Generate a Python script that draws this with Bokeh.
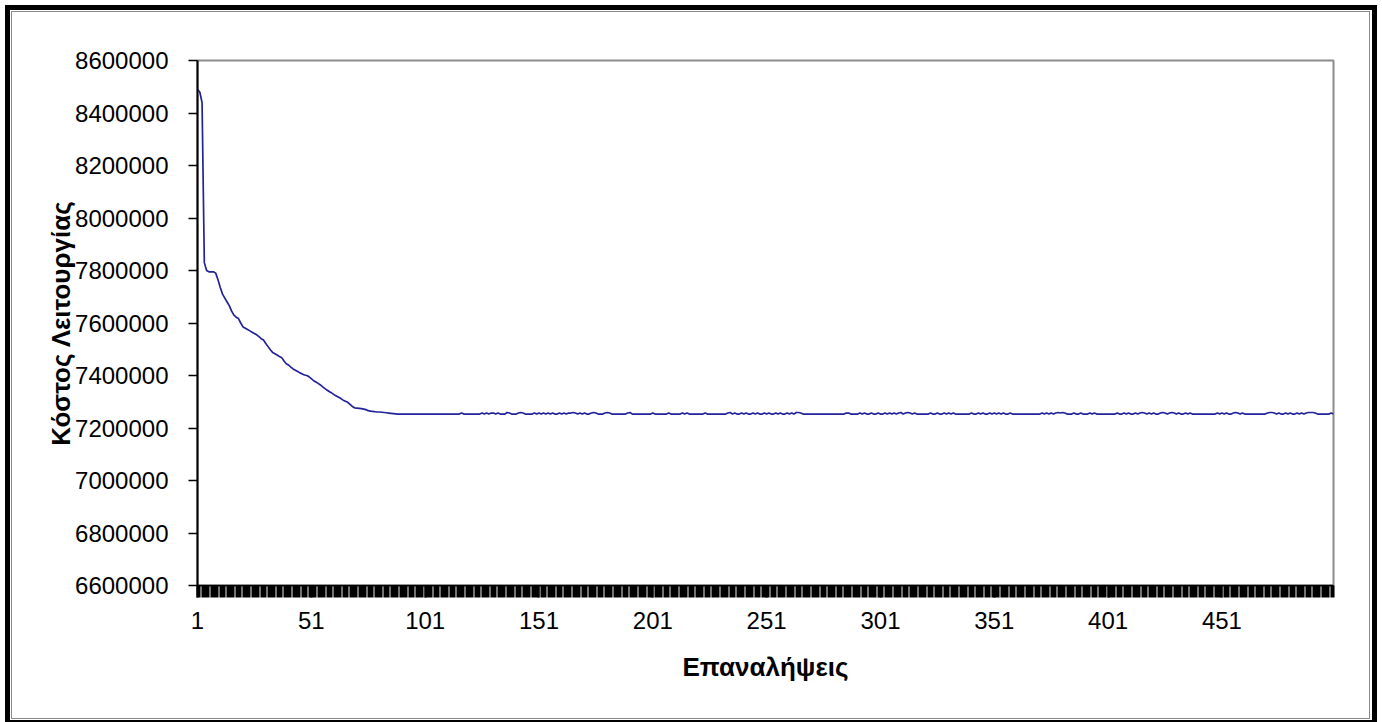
from bokeh.plotting import figure
from bokeh.models import FixedTicker, BasicTickFormatter, Range1d
from bokeh.embed import file_html
from bokeh.resources import INLINE

# Operating cost per iteration
cost = [
    8490000, 8480000, 8440000, 7830000, 7800000, 7795000, 7795000, 7795000, 7790000, 7765000,
    7735000, 7710000, 7695000, 7680000, 7665000, 7645000, 7630000, 7622000, 7617000, 7600000,
    7585000, 7580000, 7575000, 7570000, 7565000, 7560000, 7555000, 7548000, 7540000, 7535000,
    7522000, 7510000, 7498000, 7488000, 7483000, 7478000, 7472000, 7468000, 7455000, 7445000,
    7440000, 7432000, 7425000, 7420000, 7415000, 7410000, 7406000, 7402000, 7400000, 7395000,
    7388000, 7380000, 7375000, 7370000, 7364000, 7357000, 7350000, 7344000, 7338000, 7333000,
    7327000, 7322000, 7317000, 7312000, 7306000, 7302000, 7298000, 7290000, 7282000, 7277000,
    7276000, 7275000, 7274000, 7272000, 7270000, 7266000, 7264000, 7263000, 7262000, 7261000,
    7261000, 7260000, 7259000, 7258000, 7257000, 7256000, 7255000, 7254000,
    # 89-116
    7253000, 7253000, 7253000, 7253000, 7253000, 7253000, 7253000, 7253000, 7253000, 7253000,
    7253000, 7253000, 7253000, 7253000, 7253000, 7253000, 7253000, 7253000, 7253000, 7253000,
    7253000, 7253000, 7253000, 7253000, 7253000, 7253000, 7253000, 7253000,
    # 117-186
    7257000, 7253000, 7253000, 7253000, 7253000, 7253000, 7253000, 7253000, 7253000, 7257000,
    7253000, 7257000, 7253000, 7257000, 7257000, 7253000, 7257000, 7253000, 7253000, 7253000,
    7259000, 7257000, 7253000, 7253000, 7253000, 7257000, 7259000, 7257000, 7253000, 7253000,
    7253000, 7253000, 7257000, 7253000, 7257000, 7253000, 7257000, 7253000, 7257000, 7253000,
    7257000, 7253000, 7253000, 7257000, 7253000, 7257000, 7253000, 7257000, 7257000, 7259000,
    7257000, 7253000, 7257000, 7253000, 7257000, 7253000, 7253000, 7257000, 7259000, 7257000,
    7253000, 7253000, 7253000, 7257000, 7259000, 7257000, 7253000, 7253000, 7253000, 7253000,
    # 187-233
    7253000, 7253000, 7253000, 7257000, 7259000, 7253000, 7253000, 7253000, 7253000, 7253000,
    7253000, 7253000, 7253000, 7253000, 7257000, 7253000, 7253000, 7253000, 7253000, 7253000,
    7253000, 7257000, 7253000, 7253000, 7253000, 7253000, 7253000, 7257000, 7253000, 7257000,
    7253000, 7253000, 7253000, 7253000, 7253000, 7253000, 7253000, 7257000, 7253000, 7253000,
    7253000, 7253000, 7253000, 7253000, 7253000, 7253000, 7253000,
    # 234-268
    7257000, 7259000, 7253000, 7257000, 7253000, 7253000, 7257000, 7253000, 7257000, 7253000,
    7253000, 7257000, 7253000, 7257000, 7253000, 7253000, 7257000, 7253000, 7257000, 7253000,
    7253000, 7257000, 7253000, 7257000, 7253000, 7253000, 7257000, 7253000, 7257000, 7253000,
    7259000, 7259000, 7257000, 7253000, 7253000,
    # 269-291
    7253000, 7253000, 7253000, 7253000, 7253000, 7253000, 7253000, 7253000, 7253000, 7253000,
    7253000, 7253000, 7253000, 7253000, 7253000, 7253000, 7253000, 7257000, 7257000, 7253000,
    7253000, 7253000, 7253000,
    # 292-334
    7257000, 7253000, 7257000, 7253000, 7253000, 7257000, 7253000, 7253000, 7257000, 7253000,
    7253000, 7257000, 7253000, 7257000, 7253000, 7257000, 7253000, 7257000, 7259000, 7253000,
    7257000, 7259000, 7257000, 7253000, 7257000, 7253000, 7253000, 7253000, 7253000, 7253000,
    7253000, 7257000, 7253000, 7253000, 7257000, 7253000, 7253000, 7257000, 7253000, 7257000,
    7253000, 7257000, 7253000,
    # 335-340
    7253000, 7253000, 7253000, 7253000, 7253000, 7253000,
    # 341-363
    7257000, 7253000, 7253000, 7257000, 7253000, 7257000, 7253000, 7253000, 7257000, 7253000,
    7257000, 7253000, 7257000, 7253000, 7257000, 7253000, 7253000, 7257000, 7253000, 7253000,
    7253000, 7253000, 7253000,
    # 364-370
    7253000, 7253000, 7253000, 7253000, 7253000, 7253000, 7253000,
    # 371-398
    7253000, 7257000, 7253000, 7257000, 7253000, 7257000, 7253000, 7257000, 7259000, 7257000,
    7259000, 7257000, 7253000, 7253000, 7253000, 7257000, 7253000, 7253000, 7257000, 7253000,
    7253000, 7253000, 7257000, 7253000, 7257000, 7253000, 7253000, 7253000,
    # 399-500
    7253000, 7253000, 7253000, 7253000, 7253000, 7253000,
    7257000, 7253000, 7253000, 7257000, 7253000, 7257000, 7253000, 7253000, 7257000, 7253000,
    7257000, 7259000, 7257000, 7253000, 7257000, 7253000, 7257000, 7253000, 7253000, 7257000,
    7259000, 7257000, 7253000, 7257000, 7259000, 7257000, 7253000, 7257000, 7253000, 7253000,
    7257000, 7253000, 7257000, 7253000, 7253000,
    7253000, 7253000, 7253000, 7253000, 7253000, 7253000, 7253000, 7253000, 7253000,
    7257000, 7253000, 7257000, 7253000, 7257000, 7253000, 7253000, 7257000, 7259000, 7257000,
    7253000, 7257000, 7253000,
    7253000, 7253000, 7253000, 7253000, 7253000, 7253000, 7253000, 7253000, 7253000,
    7257000, 7259000, 7259000, 7257000,
    7253000, 7257000, 7253000, 7253000, 7257000, 7253000, 7257000, 7253000, 7253000, 7257000,
    7253000, 7257000, 7253000,
    7257000, 7259000, 7259000, 7259000, 7257000, 7253000,
    7253000, 7253000, 7253000, 7253000, 7253000, 7257000, 7253000,
]

iterations = list(range(1, len(cost) + 1))
x_tick_values = [1, 51, 101, 151, 201, 251, 301, 351, 401, 451]
y_tick_values = [6600000, 6800000, 7000000, 7200000, 7400000, 7600000,
                 7800000, 8000000, 8200000, 8400000, 8600000]
x_title = "Επαναλήψεις"
y_title = "Κόστος Λειτουργίας"

FONT = "Liberation Sans"

p = figure(width=1382, height=722, output_backend="svg", toolbar_location=None,
           x_range=Range1d(1, 500), y_range=Range1d(6600000, 8600000),
           min_border_left=197, min_border_right=49, min_border_top=60,
           min_border_bottom=137)

p.line(iterations, cost, line_color="#22229c", line_width=1.7)

p.xgrid.visible = False
p.ygrid.visible = False
p.background_fill_color = "white"
p.border_fill_alpha = 0
p.outline_line_color = "#8c8c8c"
p.outline_line_width = 2

# page frame drawn around the chart: thick black rule and thin grey rule
shadows = [
    "inset 5px 0 0 0 #ffffff", "inset 0 5px 0 0 #ffffff", "inset -5px 0 0 0 #ffffff",
    "inset 10px 0 0 0 #000000", "inset 0 10px 0 0 #000000",
    "inset -10px 0 0 0 #000000", "inset 0 -2px 0 0 #000000",
    "inset 11px 0 0 0 #ffffff", "inset 0 11px 0 0 #ffffff",
    "inset -12px 0 0 0 #ffffff", "inset 0 -3px 0 0 #ffffff",
    "inset 12px 0 0 0 #8a8a8a", "inset 0 12px 0 0 #8a8a8a",
    "inset -13px 0 0 0 #8a8a8a", "inset 0 -4px 0 0 #8a8a8a",
]
p.styles = {"background-color": "white", "box-shadow": ", ".join(shadows)}

# x axis
xa = p.xaxis[0]
xa.ticker = FixedTicker(ticks=x_tick_values, minor_ticks=iterations)
xa.axis_line_color = "black"
xa.axis_line_width = 1.5
xa.major_tick_out = 12
xa.major_tick_in = 0
xa.minor_tick_out = 12
xa.minor_tick_in = 0
xa.major_tick_line_color = "black"
xa.major_tick_line_width = 2.1
xa.minor_tick_line_color = "black"
xa.minor_tick_line_width = 2.1
xa.major_label_standoff = 14
xa.major_label_text_font = FONT
xa.major_label_text_font_size = "24px"
xa.major_label_text_color = "black"
xa.axis_label = x_title
xa.axis_label_text_font = FONT
xa.axis_label_text_font_style = "bold"
xa.axis_label_text_font_size = "26px"
xa.axis_label_text_color = "black"
xa.axis_label_standoff = 20

# y axis
ya = p.yaxis[0]
ya.ticker = FixedTicker(ticks=y_tick_values, minor_ticks=[])
ya.formatter = BasicTickFormatter(use_scientific=False)
ya.axis_line_color = "black"
ya.axis_line_width = 2
ya.major_tick_out = 9
ya.major_tick_in = 0
ya.major_tick_line_color = "black"
ya.major_tick_line_width = 1.5
ya.minor_tick_out = 0
ya.minor_tick_in = 0
ya.major_label_standoff = 20
ya.major_label_text_font = FONT
ya.major_label_text_font_size = "24px"
ya.major_label_text_color = "black"
ya.axis_label = y_title
ya.axis_label_text_font = FONT
ya.axis_label_text_font_style = "bold"
ya.axis_label_text_font_size = "26px"
ya.axis_label_text_color = "black"
ya.axis_label_standoff = -4

open("out.html", "w").write(file_html(p, INLINE))
